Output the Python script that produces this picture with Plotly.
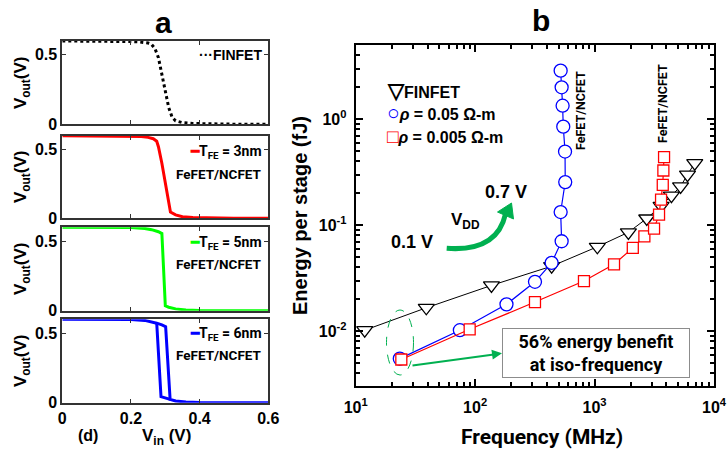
import plotly.graph_objects as go

W, H = 727, 456

# ---------------- Panel a data (Vin, Vout in V) ----------------
vin_fin = [0.0, 0.05, 0.10, 0.15, 0.20, 0.22, 0.24, 0.25, 0.26, 0.27, 0.28, 0.29, 0.30, 0.31, 0.32, 0.33, 0.35, 0.38, 0.42, 0.50, 0.60]
vout_fin = [0.600, 0.600, 0.599, 0.598, 0.596, 0.594, 0.590, 0.585, 0.575, 0.545, 0.48, 0.37, 0.24, 0.12, 0.05, 0.025, 0.012, 0.006, 0.003, 0.001, 0.0]

vin_3nm = [0.0, 0.10, 0.20, 0.23, 0.25, 0.265, 0.275, 0.28, 0.29, 0.30, 0.31, 0.315, 0.33, 0.35, 0.38, 0.42, 0.50, 0.60]
vout_3nm = [0.600, 0.600, 0.598, 0.595, 0.588, 0.578, 0.56, 0.52, 0.40, 0.25, 0.09, 0.045, 0.025, 0.012, 0.005, 0.002, 0.0005, 0.0]

vin_5nm = [0.0, 0.10, 0.20, 0.24, 0.26, 0.28, 0.29, 0.295, 0.30, 0.31, 0.33, 0.36, 0.40, 0.50, 0.60]
vout_5nm = [0.600, 0.600, 0.598, 0.592, 0.583, 0.568, 0.555, 0.30, 0.035, 0.025, 0.013, 0.005, 0.002, 0.0005, 0.0]

vin_6nm_fwd = [0.0, 0.10, 0.20, 0.24, 0.26, 0.275, 0.29, 0.301, 0.314, 0.33, 0.36, 0.40, 0.50, 0.60]
vout_6nm_fwd = [0.600, 0.600, 0.598, 0.592, 0.583, 0.572, 0.56, 0.547, 0.024, 0.012, 0.005, 0.002, 0.0005, 0.0]
vin_6nm_bwd = [0.275, 0.2875, 0.314]
vout_6nm_bwd = [0.572, 0.043, 0.024]

a_xticks = [0, 0.2, 0.4, 0.6]
a_xticktext = ["0", "0.2", "0.4", "0.6"]
a_yticks = [0, 0.5]
a_yticktext = ["0", "0.5"]

# ---------------- Panel b data (Frequency MHz, Energy fJ) ----------------
f_finfet = [11.9, 39, 137, 437, 1055, 1920, 2735, 3606, 4400, 5250, 6000, 6900]
e_finfet = [0.0102, 0.0166, 0.027, 0.041, 0.0625, 0.0856, 0.1156, 0.152, 0.19, 0.232, 0.30, 0.385]

f_rho05 = [23.4, 74.5, 183, 317, 437, 530, 520, 568, 566, 547, 540, 530, 520]
e_rho05 = [0.0055, 0.0102, 0.0179, 0.0292, 0.0441, 0.0705, 0.133, 0.255, 0.495, 0.85, 1.34, 2.0, 2.87]

f_rho005 = [24.1, 90, 317, 815, 1455, 2090, 2612, 3148, 3466, 3603, 3724, 3768, 3818]
e_rho005 = [0.0054, 0.0104, 0.0188, 0.0297, 0.0427, 0.061, 0.0785, 0.0927, 0.1256, 0.174, 0.240, 0.328, 0.439]

b_xticks = [10, 100, 1000, 10000]
b_xticktext = ["10<sup>1</sup>", "10<sup>2</sup>", "10<sup>3</sup>", "10<sup>4</sup>"]
b_yticks = [0.01, 0.1, 1]
b_yticktext = ["10<sup>-2</sup>", "10<sup>-1</sup>", "10<sup>0</sup>"]

GREEN = "#00B050"
FONT = "Liberation Sans"
TFONT = "Roboto"


def px(x):
    return x / W


def py(y):
    return 1 - y / H


fig = go.Figure()

# panel a traces
fig.add_trace(go.Scatter(x=vin_fin, y=vout_fin, mode="lines", line=dict(color="black", width=3, dash="dot"),
                         xaxis="x", yaxis="y", showlegend=False))
fig.add_trace(go.Scatter(x=vin_3nm, y=vout_3nm, mode="lines", line=dict(color="#FF0000", width=3),
                         xaxis="x2", yaxis="y2", showlegend=False))
fig.add_trace(go.Scatter(x=vin_5nm, y=vout_5nm, mode="lines", line=dict(color="#00FF00", width=3),
                         xaxis="x3", yaxis="y3", showlegend=False))
fig.add_trace(go.Scatter(x=vin_6nm_fwd, y=vout_6nm_fwd, mode="lines", line=dict(color="#0000FF", width=3),
                         xaxis="x4", yaxis="y4", showlegend=False))
fig.add_trace(go.Scatter(x=vin_6nm_bwd, y=vout_6nm_bwd, mode="lines", line=dict(color="#0000FF", width=3),
                         xaxis="x4", yaxis="y4", showlegend=False))

# panel b traces
fig.add_trace(go.Scatter(x=f_finfet, y=e_finfet, mode="lines+markers", line=dict(color="black", width=1),
                         marker=dict(symbol="triangle-down", size=14, color="white", line=dict(color="black", width=1.3)),
                         xaxis="x5", yaxis="y5", showlegend=False))
fig.add_trace(go.Scatter(x=f_rho05, y=e_rho05, mode="lines+markers", line=dict(color="#0000FF", width=1.2),
                         marker=dict(symbol="circle", size=13, color="white", line=dict(color="#0000FF", width=1.3)),
                         xaxis="x5", yaxis="y5", showlegend=False))
fig.add_trace(go.Scatter(x=f_rho005, y=e_rho005, mode="lines+markers", line=dict(color="#FF0000", width=1.2),
                         marker=dict(symbol="square", size=11, color="white", line=dict(color="#FF0000", width=1.3)),
                         xaxis="x5", yaxis="y5", showlegend=False))

tickfont = dict(family=FONT, size=16, color="black", weight="bold")

a_xdom = [px(62.3), px(268.3)]
a_ydoms = [[py(124.3), py(41)], [py(218.3), py(135.7)], [py(310.7), py(227.3)], [py(402.7), py(319.3)]]

layout = dict(
    width=W, height=H,
    margin=dict(l=0, r=0, t=0, b=0, autoexpand=False),
    paper_bgcolor="white", plot_bgcolor="white",
    showlegend=False,
)

for i in range(4):
    xn = "xaxis" if i == 0 else f"xaxis{i+1}"
    yn = "yaxis" if i == 0 else f"yaxis{i+1}"
    layout[xn] = dict(domain=a_xdom, range=[0, 0.6], anchor="y" if i == 0 else f"y{i+1}",
                      tickmode="array", tickvals=a_xticks, ticktext=a_xticktext,
                      showticklabels=(i == 3), ticks="inside", ticklen=4, tickwidth=1, tickcolor="#333",
                      showline=True, linecolor="#333", linewidth=1.8, mirror="ticks", automargin=False,
                      showgrid=False, zeroline=False, tickfont=tickfont, ticklabelstandoff=0)
    layout[yn] = dict(domain=a_ydoms[i], range=[0, 0.6], anchor="x" if i == 0 else f"x{i+1}",
                      tickmode="array", tickvals=a_yticks, ticktext=a_yticktext,
                      ticks="inside", ticklen=4, tickwidth=1, tickcolor="#333", automargin=False,
                      showline=True, linecolor="#333", linewidth=1.8, mirror="ticks",
                      showgrid=False, zeroline=False, tickfont=tickfont)

layout["xaxis5"] = dict(domain=[px(355.7), px(714)], type="log", range=[1, 4], anchor="y5",
                        tickmode="array", tickvals=b_xticks, ticktext=b_xticktext,
                        ticks="inside", ticklen=7, tickwidth=1.5, tickcolor="black", automargin=False,
                        minor=dict(ticks="inside", ticklen=4, tickcolor="black", dtick="D1", showgrid=False),
                        showline=True, linecolor="black", linewidth=2, mirror="ticks",
                        showgrid=False, zeroline=False, tickfont=tickfont, ticklabelstandoff=6)
layout["yaxis5"] = dict(domain=[py(385.7), py(45)], type="log", range=[-2.515, 0.70], anchor="x5",
                        tickmode="array", tickvals=b_yticks, ticktext=b_yticktext,
                        ticks="inside", ticklen=7, tickwidth=1.5, tickcolor="black", automargin=False,
                        minor=dict(ticks="inside", ticklen=4, tickcolor="black", dtick="D1", showgrid=False),
                        showline=True, linecolor="black", linewidth=2, mirror="ticks",
                        showgrid=False, zeroline=False, tickfont=tickfont, ticklabelstandoff=4)

fig.update_layout(**layout)


def ann(x, y, text, size=15, xanchor="center", yanchor="middle", angle=0, family=FONT, color="black"):
    fig.add_annotation(x=px(x), y=py(y), xref="paper", yref="paper", text=text, showarrow=False,
                       xanchor=xanchor, yanchor=yanchor, textangle=angle, borderpad=0,
                       font=dict(family=family, size=size, color=color, weight="bold"))


# Titles
ann(163, 22, "a", size=30)
ann(541, 20, "b", size=30)

# Panel a axis titles
for yc in [83, 177, 269, 361]:
    ann(22, yc, "V<sub>out</sub>(V)", size=17, angle=-90)
ann(88, 435, "(d)", size=16)
ann(166, 437, "V<sub>in</sub> (V)", size=17)

# Panel a legends
ann(263, 55, '<span style="color:black">···</span>FINFET', size=14, xanchor="right")
leg = [(152, 174, "#FF0000", "3nm"), (243, 264, "#00FF00", "5nm"), (334, 355, "#0000FF", "6nm")]
for yl, yf, col, t in leg:
    ann(263, yl, f'<span style="color:{col}">━</span>T<sub>FE</sub> = {t}', size=14, xanchor="right", family=TFONT)
    ann(263, yf, "FeFET/NCFET", size=13.5, xanchor="right", family=TFONT)

# Panel b axis titles
ann(300, 216, "Energy per stage (fJ)", size=20, angle=-90)
ann(542, 437, "Frequency (MHz)", size=21, family=TFONT)

# Panel b legend
ann(386, 90, '<span style="color:black;font-size:21px">▽</span>FINFET', size=16, xanchor="left")
ann(386, 113, '<span style="color:#0000FF;font-size:21px">○</span><i>ρ</i> = 0.05 Ω-m', size=16, xanchor="left")
ann(386, 136, '<span style="color:#FF0000;font-size:19px">□</span><i>ρ</i> = 0.005 Ω-m', size=16, xanchor="left")

# Vertical labels
ann(580, 111, "FeFET/NCFET", size=12.5, angle=-90, family=TFONT)
ann(662, 104, "FeFET/NCFET", size=12.5, angle=-90, family=TFONT)

# VDD annotation
ann(506, 192, "0.7 V", size=18)
ann(465, 221, "V<sub>DD</sub>", size=17)
ann(412, 242, "0.1 V", size=18)

# curved arrow
fig.add_shape(type="path", xref="paper", yref="paper",
              path=f"M {px(446.7)},{py(248.3)} Q {px(497)},{py(252)} {px(505.5)},{py(214)}",
              line=dict(color=GREEN, width=5))
fig.add_shape(type="path", xref="paper", yref="paper",
              path=f"M {px(511.5)},{py(203)} L {px(513.5)},{py(219)} L {px(497.5)},{py(212)} Z",
              fillcolor=GREEN, line=dict(color=GREEN, width=1))

# dashed ellipse
fig.add_shape(type="circle", xref="paper", yref="paper",
              x0=px(386.5), x1=px(413.5), y0=py(375), y1=py(310),
              line=dict(color=GREEN, width=1, dash="dash"))

# straight arrow
fig.add_annotation(x=px(502), y=py(353.3), xref="paper", yref="paper", text="", showarrow=True,
                   ax=-91, ay=12.4, arrowcolor=GREEN, arrowwidth=2, arrowhead=2, arrowsize=1)

# benefit box
fig.add_annotation(x=px(596), y=py(353), xref="paper", yref="paper", xanchor="center", yanchor="middle",
                   text="56% energy benefit<br>at iso-frequency", showarrow=False,
                   width=180, height=42, bgcolor="white", bordercolor="#8c8c8c", borderwidth=1, borderpad=3,
                   font=dict(family=TFONT, size=18, color="black", weight="bold"))

fig.write_html("out.html", config={"displayModeBar": False},
               post_script="document.body.style.margin='0';document.body.style.overflow='hidden';")
